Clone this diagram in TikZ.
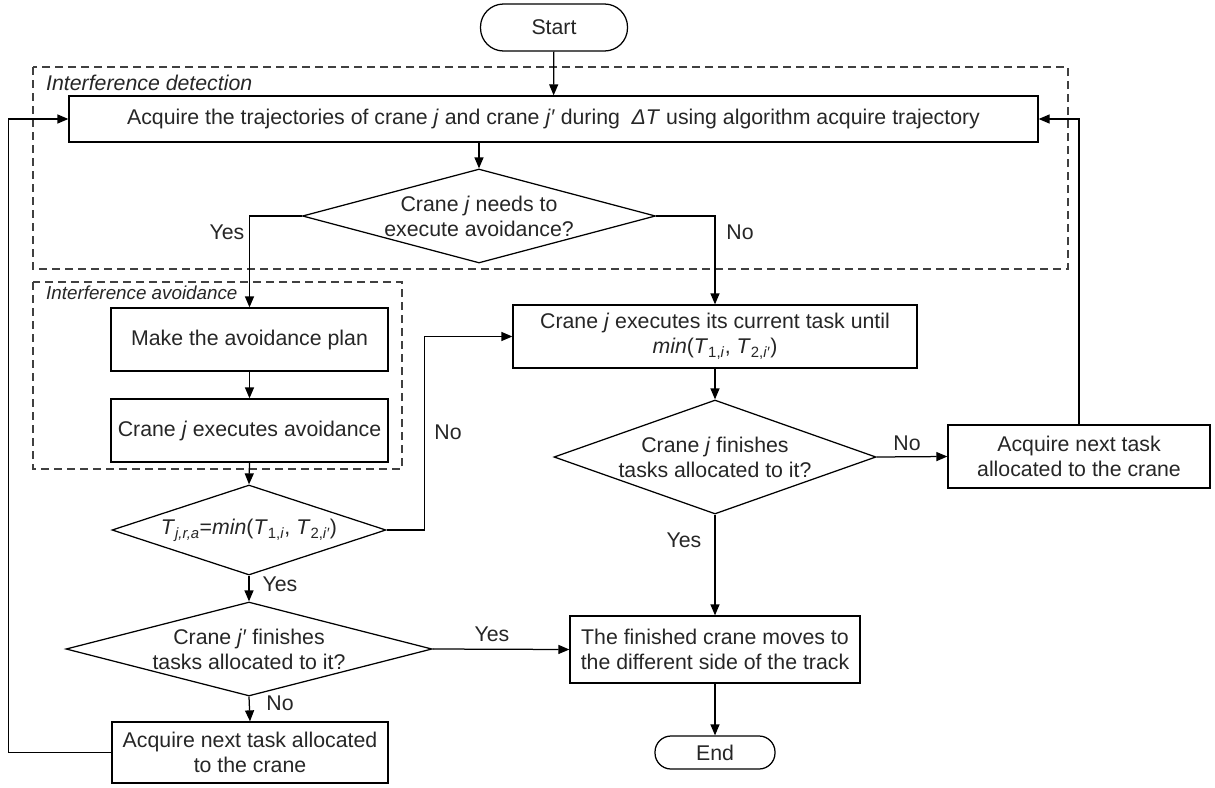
\documentclass[tikz,border=0pt]{standalone}
\usepackage{fontspec}
\setmainfont{Liberation Sans}
\usetikzlibrary{arrows.meta,shapes.geometric}
\begin{document}
\begin{tikzpicture}[x=1pt,y=-1pt,
  every node/.style={font=\fontsize{21.3}{25}\selectfont, text=black!85},
  boxnode/.style={draw, line width=1.25pt, rectangle, inner sep=0pt, align=center},
  termnode/.style={draw, line width=1.25pt, rectangle, rounded corners=16pt, inner sep=0pt},
  dianode/.style={draw, line width=1.25pt, diamond, inner sep=0pt},
  txtnode/.style={align=center, inner sep=0pt},
  lbl/.style={inner sep=0pt},
  grp/.style={draw=black!75, line width=1.25pt, dash pattern=on 8pt off 5pt},
  arr/.style={draw, line width=1.25pt, -{Triangle[length=11pt,width=9pt]}},
  ln/.style={draw, line width=1.25pt}]
\useasboundingbox (0,0) rectangle (1215,787);
% groups
\draw[grp] (33,67) rectangle (1068,269);
\node[lbl, anchor=west, font=\fontsize{21.3}{25}\selectfont\itshape] (gdet) at (46,83) {Interference detection};
\draw[grp] (33,282) rectangle (402,469);
\node[lbl, anchor=west, font=\fontsize{18.8}{22}\selectfont\itshape] (gav) at (46,293) {Interference avoidance};
% nodes
\node[termnode, minimum width=147pt, minimum height=47pt, rounded corners=23pt] (start) at (554,27.5) {Start};
\node[boxnode, minimum width=969pt, minimum height=46pt] (main) at (553.5,119) {Acquire the trajectories of crane \textit{j} and crane \textit{j′} during\hspace{0.55em}\textit{ΔT} using algorithm acquire trajectory};
\node[dianode, minimum width=353pt, minimum height=94pt] (d1) at (479,216) {};
\node[txtnode] (d1t) at (d1) {Crane \textit{j} needs to\\execute avoidance?};
\node[boxnode, minimum width=277pt, minimum height=63pt] (plan) at (249.5,339.5) {Make the avoidance plan};
\node[boxnode, minimum width=277pt, minimum height=63pt] (exav) at (249.5,430.5) {Crane \textit{j} executes avoidance};
\node[dianode, minimum width=274pt, minimum height=90pt] (dT) at (249,530) {};
\node[txtnode] (dTt) at (dT) {\textit{T}\textsubscript{\textit{j,r,a}}=\textit{min}(\textit{T}\textsubscript{1,\textit{i}}, \textit{T}\textsubscript{2,\textit{i′}})};
\node[dianode, minimum width=366pt, minimum height=94pt] (dk) at (249,649) {};
\node[txtnode] (dkt) at (dk) {Crane \textit{j′} finishes\\tasks allocated to it?};
\node[boxnode, minimum width=276pt, minimum height=61pt] (acq2) at (250,752.5) {Acquire next task allocated\\to the crane};
\node[boxnode, minimum width=404pt, minimum height=63pt] (task) at (715,336.5) {Crane \textit{j} executes its current task until\\\textit{min}(\textit{T}\textsubscript{1,\textit{i}}, \textit{T}\textsubscript{2,\textit{i′}})};
\node[dianode, minimum width=322pt, minimum height=114pt] (dj) at (715,457) {};
\node[txtnode] (djt) at (dj) {Crane \textit{j} finishes\\tasks allocated to it?};
\node[boxnode, minimum width=262pt, minimum height=63pt] (acq1) at (1079,456.5) {Acquire next task\\allocated to the crane};
\node[boxnode, minimum width=290pt, minimum height=67pt] (fin) at (715,649.5) {The finished crane moves to\\the different side of the track};
\node[termnode, minimum width=120pt, minimum height=33pt] (end) at (715,752.5) {End};
% connectors
\draw[arr] (start) -- (main);
\draw[arr] (d1.north |- main.south) -- (d1.north);
\draw[arr] (d1.west) -| (plan.north);
\node[lbl] (y1) at (227,232) {Yes};
\draw[arr] (d1.east) -| (task.north);
\node[lbl] (n1) at (740,232) {No};
\draw[arr] (plan) -- (exav);
\draw[arr] (exav.south) -- (dT.north);
\draw[arr] (dT.east) -- ++(38,0) |- (task.west);
\node[lbl] (n2) at (448,432) {No};
\draw[arr] (task) -- (dj.north);
\draw[arr] (dj.east) -- (acq1.west);
\node[lbl] (n3) at (907,443) {No};
\draw[arr] (acq1.north) |- (main.east);
\draw[arr] (dj.south) -- (fin.north);
\node[lbl] (y2) at (684,540) {Yes};
\draw[arr] (fin) -- (end);
\draw[arr] (dT.south) -- (dk.north);
\node[lbl] (y3) at (280,584) {Yes};
\draw[arr] (dk.east) -- (fin.west);
\node[lbl] (y4) at (492,634) {Yes};
\draw[arr] (dk.south) -- (acq2.north);
\node[lbl] (n4) at (280,703) {No};
\draw[arr] (acq2.west) -- ++(-103,0) |- (main.west);
\end{tikzpicture}
\end{document}
